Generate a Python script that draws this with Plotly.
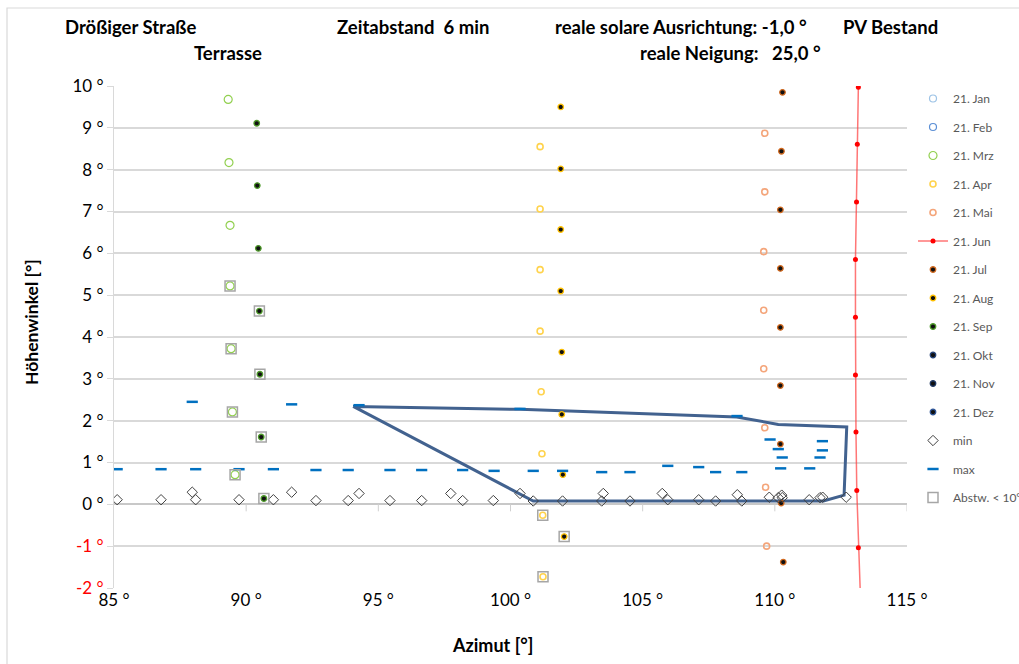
import plotly.graph_objects as go

# Sun positions on the 21st of each month: azimuth [deg], elevation [deg]
jan_az, jan_el = [], []
feb_az, feb_el = [], []
mrz_az = [89.32, 89.35, 89.39, 89.39, 89.43, 89.48, 89.58]
mrz_el = [9.68, 8.17, 6.67, 5.22, 3.72, 2.21, 0.71]
apr_az = [101.12, 101.12, 101.12, 101.12, 101.16, 101.19, 101.22, 101.23]
apr_el = [8.55, 7.06, 5.61, 4.14, 2.69, 1.21, -0.26, -1.73]
mai_az = [109.62, 109.62, 109.58, 109.58, 109.58, 109.62, 109.65, 109.69]
mai_el = [8.87, 7.47, 6.04, 4.64, 3.24, 1.83, 0.41, -1.00]
jun_az = [113.16, 113.12, 113.09, 113.05, 113.05, 113.05, 113.07, 113.10, 113.16, 113.25]
jun_el = [9.97, 8.61, 7.23, 5.85, 4.47, 3.09, 1.73, 0.33, -1.04, -2.42]
jul_az = [110.29, 110.25, 110.21, 110.21, 110.21, 110.21, 110.21, 110.24, 110.32]
jul_el = [9.85, 8.44, 7.04, 5.64, 4.23, 2.84, 1.44, 0.03, -1.38]
aug_az = [101.90, 101.90, 101.90, 101.90, 101.94, 101.94, 101.98, 102.03]
aug_el = [9.50, 8.02, 6.57, 5.10, 3.64, 2.15, 0.71, -0.77]
sep_az = [90.40, 90.42, 90.46, 90.50, 90.52, 90.57, 90.67]
sep_el = [9.11, 7.62, 6.12, 4.62, 3.11, 1.61, 0.14]
okt_az, okt_el = [], []
nov_az, nov_el = [], []
dez_az, dez_el = [], []

# Obstruction profile: lower and upper edge per azimuth step
min_az = [85.12, 86.78, 87.96, 88.09, 89.73, 91.03, 91.72, 92.64, 93.86, 94.27,
          95.44, 96.64, 97.74, 98.19, 99.35, 100.36, 100.86, 101.97, 103.45, 103.51,
          104.52, 105.74, 105.95, 107.12, 107.76, 108.58, 108.75, 109.79, 110.13,
          110.26, 110.28, 111.30, 111.71, 111.81, 112.70]
min_el = [0.11, 0.11, 0.29, 0.11, 0.11, 0.11, 0.29, 0.09, 0.09, 0.26,
          0.09, 0.09, 0.26, 0.09, 0.09, 0.26, 0.08, 0.08, 0.08, 0.26,
          0.08, 0.26, 0.11, 0.11, 0.08, 0.23, 0.08, 0.17, 0.16,
          0.22, 0.16, 0.11, 0.16, 0.17, 0.17]
max_az = [85.12, 86.78, 87.96, 88.09, 89.73, 91.03, 91.72, 92.64, 93.86, 94.27,
          95.44, 96.64, 98.19, 99.38, 100.36, 100.86, 101.97, 103.45, 104.52,
          105.95, 107.12, 107.76, 108.57, 108.75, 109.82, 110.13, 110.28, 110.22,
          111.32, 111.71, 111.80, 111.80]
max_el = [0.84, 0.84, 2.45, 0.84, 0.84, 0.84, 2.39, 0.82, 0.82, 2.37,
          0.82, 0.82, 0.82, 0.80, 2.28, 0.80, 0.80, 0.77, 0.77,
          0.92, 0.89, 0.77, 2.11, 0.77, 1.55, 1.32, 1.12, 0.86,
          0.86, 1.12, 1.29, 1.51]

# Outline of the shading area
shade_az = [94.05, 100.36, 108.56, 110.13, 112.72, 112.62, 111.84, 100.86, 94.05]
shade_el = [2.34, 2.27, 2.09, 1.91, 1.85, 0.22, 0.08, 0.08, 2.34]

# Points flagged "Abstw. < 10": (series, index)
abstw_refs = [("mrz", 3), ("mrz", 4), ("mrz", 5), ("mrz", 6),
              ("sep", 3), ("sep", 4), ("sep", 5), ("sep", 6),
              ("apr", 6), ("apr", 7), ("aug", 7)]

x_ticks = [85, 90, 95, 100, 105, 110, 115]
y_ticks = [-2, -1, 0, 1, 2, 3, 4, 5, 6, 7, 8, 9, 10]

FONT = "Lato, Liberation Sans, sans-serif"

series = {
    "mrz": (mrz_az, mrz_el), "sep": (sep_az, sep_el),
    "apr": (apr_az, apr_el), "aug": (aug_az, aug_el),
}
abstw_az = [series[k][0][i] for k, i in abstw_refs]
abstw_el = [series[k][1][i] for k, i in abstw_refs]


def pts(v):
    return v if v else [None]


fig = go.Figure()

fig.add_trace(go.Scatter(x=shade_az, y=shade_el, mode="lines", showlegend=False,
                         line=dict(color="#42628F", width=3), hoverinfo="skip"))

open_circle = lambda c, s, w: dict(symbol="circle-open", size=s, color=c, line=dict(width=w, color=c))
dot = lambda c: dict(symbol="circle", size=5.5, color="#111111", line=dict(width=1.3, color=c))

month_traces = [
    ("21. Jan", jan_az, jan_el, open_circle("#9DC3E6", 7, 1.2)),
    ("21. Feb", feb_az, feb_el, open_circle("#5B8FD5", 7, 1.2)),
    ("21. Mrz", mrz_az, mrz_el, open_circle("#92D050", 8, 1.2)),
    ("21. Apr", apr_az, apr_el, open_circle("#FFD34D", 6, 1.6)),
    ("21. Mai", mai_az, mai_el, open_circle("#F4A57A", 6, 1.6)),
]
for name, xs, ys, mk in month_traces:
    fig.add_trace(go.Scatter(x=pts(xs), y=pts(ys), name=name, mode="markers",
                             marker=mk, legendgroup=name))

fig.add_trace(go.Scatter(x=jun_az, y=jun_el, name="21. Jun", mode="lines+markers",
                         line=dict(color="rgba(255,60,60,0.7)", width=1.5),
                         marker=dict(symbol="circle", size=5, color="#FF0000"),
                         legendgroup="21. Jun"))

dot_traces = [
    ("21. Jul", jul_az, jul_el, "#D2691E"),
    ("21. Aug", aug_az, aug_el, "#FFC000"),
    ("21. Sep", sep_az, sep_el, "#4E9A2A"),
    ("21. Okt", okt_az, okt_el, "#264478"),
    ("21. Nov", nov_az, nov_el, "#1F3864"),
    ("21. Dez", dez_az, dez_el, "#2F5597"),
]
for name, xs, ys, c in dot_traces:
    fig.add_trace(go.Scatter(x=pts(xs), y=pts(ys), name=name, mode="markers",
                             marker=dot(c), legendgroup=name))

fig.add_trace(go.Scatter(x=min_az, y=min_el, name="min", mode="markers", legendgroup="min",
                         marker=dict(symbol="diamond-open", size=8, color="#404040",
                                     line=dict(width=1, color="#404040"))))
fig.add_trace(go.Scatter(x=max_az, y=max_el, name="max", mode="markers", legendgroup="max",
                         marker=dict(symbol="line-ew", size=8, color="#0070C0",
                                     line=dict(width=2.5, color="#0070C0"))))
fig.add_trace(go.Scatter(x=abstw_az, y=abstw_el, name="Abstw. < 10°", mode="markers",
                         legendgroup="abstw",
                         marker=dict(symbol="square-open", size=10, color="#A6A6A6",
                                     line=dict(width=1.5, color="#A6A6A6"))))

# plot-area geometry in pixels
L, R, T, B = 114, 907, 86, 588
W, H = 1019, 664


def px(x):
    return (x - L) / (R - L)


def py(y):
    return (B - y) / (B - T)


def ylab(v):
    t = f"{v} °"
    return f"<span style='color:#FF0000'>{t}</span>" if v < 0 else t


fig.update_xaxes(range=[85, 115], tickvals=x_ticks, ticktext=[f"{v} °" for v in x_ticks],
                 showgrid=False, zeroline=False, showline=False, ticks="",
                 tickfont=dict(family=FONT, size=17, color="#000000"))
fig.update_yaxes(range=[-2, 10], tickvals=y_ticks, ticktext=[ylab(v) for v in y_ticks],
                 showgrid=True, gridcolor="#D9D9D9", gridwidth=1.5,
                 zeroline=True, zerolinecolor="#C8C8C8", zerolinewidth=1.5,
                 showline=True, linecolor="#D9D9D9", linewidth=1,
                 ticks="outside", ticklen=6, tickcolor="#D9D9D9",
                 tickfont=dict(family=FONT, size=17, color="#000000"))

shapes = [dict(type="line", xref="x", yref="y", x0=v, x1=v, ysizemode="pixel", yanchor=0,
               y0=0, y1=-7, line=dict(color="#D0D0D0", width=1)) for v in x_ticks[1:]]
shapes.append(dict(type="rect", xref="paper", yref="paper", x0=px(7), x1=px(W + 20),
                   y0=py(H + 20), y1=py(8), line=dict(color="#D9D9D9", width=1.2),
                   fillcolor="rgba(0,0,0,0)", layer="below"))

title_font = dict(family=FONT, size=18.5, color="#000000")
annotations = [
    ("Drößiger Straße", 130, 27), ("Terrasse", 228, 53),
    ("Zeitabstand  6 min", 413, 27), ("reale solare Ausrichtung: -1,0 °", 681, 27),
    ("reale Neigung:   25,0 °", 730, 53), ("PV Bestand", 890, 27),
]
ann = [dict(text=f"<b>{t}</b>", x=px(x), y=py(y), xref="paper", yref="paper",
            xanchor="center", yanchor="middle", showarrow=False, font=title_font)
       for t, x, y in annotations]
ann.append(dict(text="<b>Azimut [°]</b>", x=px(492), y=py(645), xref="paper", yref="paper",
                xanchor="center", yanchor="middle", showarrow=False,
                font=dict(family=FONT, size=18, color="#000000")))
ann.append(dict(text="<b>Höhenwinkel [°]</b>", x=px(31), y=py(322), xref="paper", yref="paper",
                xanchor="center", yanchor="middle", showarrow=False, textangle=-90,
                font=dict(family=FONT, size=17.5, color="#000000")))

fig.update_layout(
    width=W, height=H,
    margin=dict(l=L, r=W - R, t=T, b=H - B, autoexpand=False),
    paper_bgcolor="white", plot_bgcolor="white",
    shapes=shapes, annotations=ann,
    legend=dict(x=px(913), y=py(84), xanchor="left", yanchor="top",
                font=dict(family=FONT, size=12, color="#595959"),
                tracegroupgap=9.5, bgcolor="rgba(0,0,0,0)", maxheight=620),
    font=dict(family=FONT),
)

fig.write_html("out.html")
